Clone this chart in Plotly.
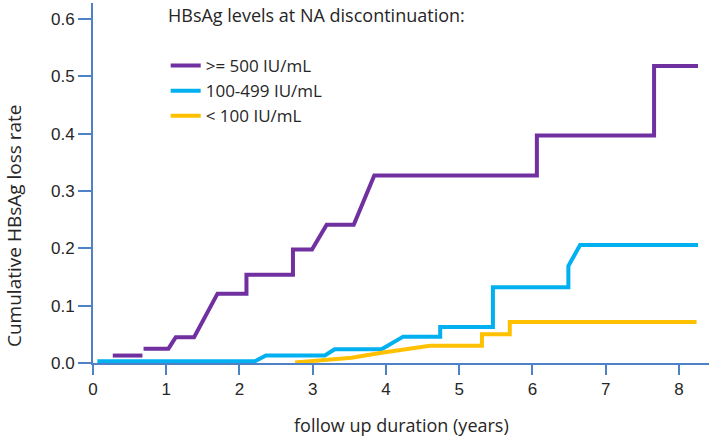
import plotly.graph_objects as go

# ---- data ----
ge500_x = [0.27, 0.675, None, 0.69, 1.03, 1.13, 1.38, 1.70, 2.095, 2.095, 2.73, 2.73, 2.99, 3.19, 3.56, 3.84, 6.06, 6.06, 7.66, 7.66, 8.26]
ge500_y = [0.013, 0.013, None, 0.025, 0.025, 0.045, 0.045, 0.121, 0.121, 0.154, 0.154, 0.198, 0.198, 0.241, 0.241, 0.327, 0.327, 0.397, 0.397, 0.518, 0.518]

mid_x = [0.06, 2.21, 2.36, 3.165, 3.30, 3.94, 4.235, 4.74, 4.74, 5.46, 5.46, 6.49, 6.49, 6.65, 8.26]
mid_y = [0.003, 0.003, 0.013, 0.013, 0.024, 0.024, 0.046, 0.046, 0.063, 0.063, 0.132, 0.132, 0.169, 0.206, 0.206]

lt100_x = [2.76, 3.17, 3.53, 3.94, 4.60, 5.31, 5.31, 5.69, 5.69, 8.24]
lt100_y = [0.001, 0.005, 0.009, 0.018, 0.030, 0.030, 0.050, 0.050, 0.0715, 0.0715]

series_names = [">= 500 IU/mL", "100-499 IU/mL", "< 100 IU/mL"]
series_colors = ["#7030A0", "#00B0F0", "#FFC000"]

x_ticks = [0, 1, 2, 3, 4, 5, 6, 7, 8]
y_ticks = [0.0, 0.1, 0.2, 0.3, 0.4, 0.5, 0.6]
y_tick_text = ["0.0", "0.1", "0.2", "0.3", "0.4", "0.5", "0.6"]

AXIS = "#4F81C7"
TXT = "#262626"
SANS = "Open Sans, Lato, sans-serif"

fig = go.Figure()
for xs, ys, name, col in zip([ge500_x, mid_x, lt100_x], [ge500_y, mid_y, lt100_y], series_names, series_colors):
    fig.add_trace(go.Scatter(x=xs, y=ys, mode="lines", name=name,
                             line=dict(color=col, width=4), connectgaps=False))

fig.update_layout(
    width=709, height=438,
    margin=dict(l=93, r=0, t=3, b=75, autoexpand=False),
    paper_bgcolor="white", plot_bgcolor="white",
    showlegend=True,
    legend=dict(x=0.118, y=0.875, xanchor="left", yanchor="top",
                font=dict(family=SANS, size=17, color=TXT),
                bgcolor="rgba(0,0,0,0)", tracegroupgap=0, itemwidth=30),
    xaxis=dict(range=[0, 8.41], tickvals=x_ticks, showgrid=False, zeroline=False,
               showline=True, linecolor=AXIS, linewidth=2, automargin=False,
               ticks="outside", ticklen=10, tickwidth=2, tickcolor=AXIS,
               tickfont=dict(family="Liberation Sans, Arial, sans-serif", size=17, color=TXT)),
    yaxis=dict(range=[0, 0.628], tickvals=y_ticks, ticktext=y_tick_text, showgrid=False, zeroline=False,
               showline=True, linecolor=AXIS, linewidth=2, automargin=False,
               ticks="outside", ticklen=13, tickwidth=2, tickcolor=AXIS,
               tickfont=dict(family="Liberation Sans, Arial, sans-serif", size=17, color=TXT)),
    annotations=[
        dict(text="HBsAg levels at NA discontinuation:", xref="paper", yref="paper",
             x=(166 - 93) / 616, y=(363 - 15) / 360, xanchor="left", yanchor="middle",
             showarrow=False, font=dict(family=SANS, size=18, color=TXT)),
        dict(text="Cumulative HBsAg loss rate", xref="paper", yref="paper",
             x=(14 - 93) / 616, y=(363 - 226) / 360, xanchor="center", yanchor="middle",
             textangle=-90, showarrow=False,
             font=dict(family=SANS, size=19, color=TXT)),
        dict(text="follow up duration (years)", xref="paper", yref="paper",
             x=(401 - 93) / 616, y=(363 - 425) / 360, xanchor="center", yanchor="middle",
             showarrow=False, font=dict(family=SANS, size=18, color=TXT)),
    ],
)

fig.write_html("out.html", config={"displayModeBar": False},
               post_script="document.body.style.margin='0px';")
